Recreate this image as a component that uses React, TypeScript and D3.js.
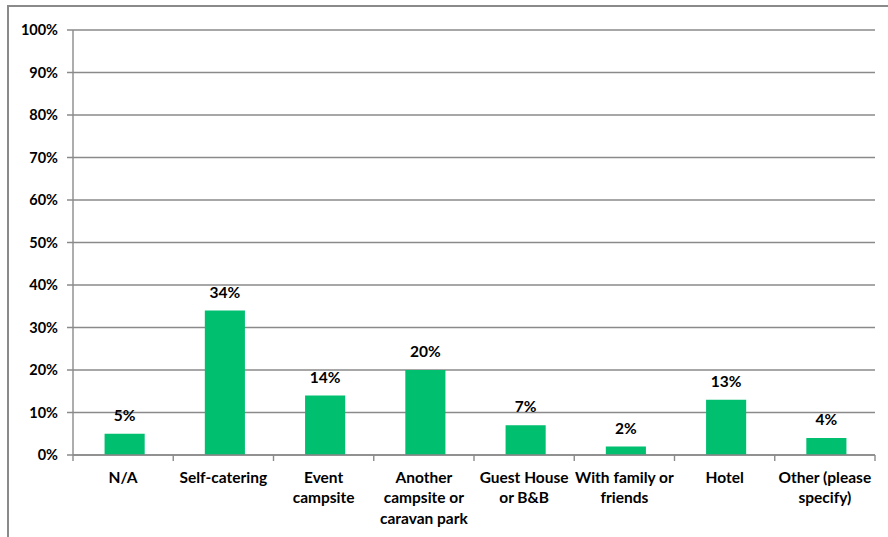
import React from "react";
import * as d3 from "d3";

const categories: string[][] = [
  ["N/A"],
  ["Self-catering"],
  ["Event", "campsite"],
  ["Another", "campsite or", "caravan park"],
  ["Guest House", "or B&B"],
  ["With family or", "friends"],
  ["Hotel"],
  ["Other (please", "specify)"],
];
const values: number[] = [5, 34, 14, 20, 7, 2, 13, 4];
const yTicks: number[] = [0, 10, 20, 30, 40, 50, 60, 70, 80, 90, 100];

const W = 888;
const H = 537;
const plot = { left: 73, right: 875, top: 30, bottom: 455 };
const FONT = "Lato, 'Open Sans', sans-serif";
const GRID = "#8a8a8a";
const BAR = "#00BF6F";

export default function App() {
  const keys = categories.map((_, i) => String(i));
  const x = d3.scaleBand<string>().domain(keys).range([plot.left, plot.right]).paddingInner(0.6).paddingOuter(0.3);
  const xb = d3.scaleBand<string>().domain(keys).range([plot.left, plot.right]);
  const y = d3.scaleLinear().domain([0, 100]).range([plot.bottom, plot.top]);

  return (
    <svg
      width={W}
      height={H}
      style={{ position: "absolute", left: 0, top: 0, display: "block" }}
    >
      <rect x={0} y={0} width={W} height={H} fill="#fff" />
      {/* chart frame */}
      <rect x={8} y={6} width={W + 20} height={H + 20} fill="none" stroke={GRID} strokeWidth={2} />

      {/* gridlines and y-axis ticks */}
      {yTicks.map((t) => (
        <g key={t}>
          <line x1={plot.left - 6} x2={plot.right} y1={y(t)} y2={y(t)} stroke={GRID} strokeWidth={1.4} />
          <text
            x={58}
            y={y(t)}
            dy="0.35em"
            textAnchor="end"
            fontFamily={FONT}
            fontWeight="bold"
            fontSize={14.5}
            fill="#000"
          >
            {t}%
          </text>
        </g>
      ))}
      {/* y axis */}
      <line x1={plot.left} x2={plot.left} y1={plot.top} y2={plot.bottom} stroke={GRID} strokeWidth={1.4} />

      {/* x-axis category ticks */}
      {keys.concat(["end"]).map((k, i) => {
        const xx = i < keys.length ? (xb(k) as number) : plot.right;
        return <line key={k} x1={xx} x2={xx} y1={plot.bottom} y2={plot.bottom + 6} stroke={GRID} strokeWidth={1.4} />;
      })}

      {/* bars */}
      {values.map((v, i) => (
        <rect
          key={i}
          x={(x(keys[i]) as number) + 1.5}
          y={y(v)}
          width={x.bandwidth()}
          height={plot.bottom - y(v)}
          fill={BAR}
        />
      ))}
      {/* baseline drawn over the bars */}
      <line x1={plot.left} x2={plot.right} y1={plot.bottom} y2={plot.bottom} stroke={GRID} strokeWidth={1.4} />

      {/* value labels */}
      {values.map((v, i) => (
        <text
          key={i}
          x={(x(keys[i]) as number) + 1.5 + x.bandwidth() / 2}
          y={y(v) - 13}
          textAnchor="middle"
          fontFamily={FONT}
          fontWeight="bold"
          fontSize={15.5}
          fill="#000"
        >
          {v}%
        </text>
      ))}

      {/* category labels */}
      {categories.map((lines, i) => (
        <text
          key={i}
          x={(xb(keys[i]) as number) + xb.bandwidth() / 2}
          textAnchor="middle"
          fontFamily={FONT}
          fontWeight="bold"
          fontSize={15.5}
          fill="#000"
        >
          {lines.map((l, j) => (
            <tspan key={j} x={(xb(keys[i]) as number) + xb.bandwidth() / 2} y={482.5 + j * 20.5}>
              {l}
            </tspan>
          ))}
        </text>
      ))}
    </svg>
  );
}
